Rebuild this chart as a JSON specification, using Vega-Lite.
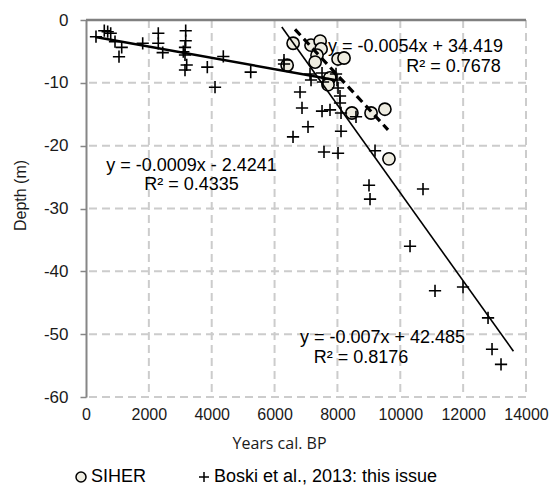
{
  "$schema": "https://vega.github.io/schema/vega-lite/v6.json",
  "autosize": "none",
  "width": 440,
  "height": 377,
  "padding": {"left": 86, "top": 20, "right": 24, "bottom": 96},
  "background": "white",
  "config": {
    "view": {"stroke": null},
    "font": "Liberation Sans",
    "axis": {"labelFont": "Liberation Sans", "labelFontSize": 17, "labelColor": "#1a1a1a", "titleFont": "Liberation Sans", "titleFontWeight": "normal", "titleColor": "#1a1a1a", "grid": false, "labelOverlap": false}
  },
  "layer": [
    {
      "data": {"values": [{"g": 2000}, {"g": 4000}, {"g": 6000}, {"g": 8000}, {"g": 10000}, {"g": 12000}, {"g": 14000}]},
      "mark": {"type": "rule", "stroke": "#CCCCCC", "strokeWidth": 2, "strokeDash": [8, 5], "opacity": 1},
      "encoding": {"x": {"field": "g", "type": "quantitative"}}
    },
    {
      "data": {"values": [{"g": -10}, {"g": -20}, {"g": -30}, {"g": -40}, {"g": -50}, {"g": -60}]},
      "mark": {"type": "rule", "stroke": "#CCCCCC", "strokeWidth": 2, "strokeDash": [8, 5], "opacity": 1},
      "encoding": {"y": {"field": "g", "type": "quantitative"}}
    },
    {
      "data": {"values": [{"g": 0, "a": 0, "b": 14000}]},
      "mark": {"type": "rule", "stroke": "#808080", "strokeWidth": 2.5, "opacity": 1},
      "encoding": {"y": {"field": "g", "type": "quantitative"}, "x": {"field": "a", "type": "quantitative"}, "x2": {"field": "b"}}
    },
    {
      "data": {"values": [
        {"label": "y = -0.0009x - 2.4241", "x": 3357, "y": -23.2},
        {"label": "R² = 0.4335", "x": 3357, "y": -26.3},
        {"label": "y = -0.0054x + 34.419", "x": 10486, "y": -4.3},
        {"label": "R² = 0.7678", "x": 11693, "y": -7.5},
        {"label": "y = -0.007x + 42.485", "x": 9435, "y": -50.6},
        {"label": "R² = 0.8176", "x": 8751, "y": -53.8}
      ]},
      "mark": {"type": "text", "font": "Liberation Sans", "fontSize": 18, "color": "#000000", "align": "center", "baseline": "middle"},
      "encoding": {
        "x": {"field": "x", "type": "quantitative", "scale": {"domain": [0, 14000], "nice": false},
          "axis": {"values": [0, 2000, 4000, 6000, 8000, 10000, 12000, 14000], "labelExpr": "'' + datum.value", "labelFontSize": 16, "labelFlush": false, "title": "Years cal. BP", "titleFont": "Open Sans", "titleFontSize": 16, "titleX": 193, "titleY": 46, "titleBaseline": "middle", "titleAlign": "center",
            "domain": false, "ticks": false, "labelPadding": 9}},
        "y": {"field": "y", "type": "quantitative", "scale": {"domain": [-60, 0], "nice": false},
          "axis": {"values": [0, -10, -20, -30, -40, -50, -60], "labelExpr": "'' + datum.value", "title": "Depth (m)", "titleFontSize": 16, "titleAngle": -90, "titleX": -66, "titleY": 175, "titleBaseline": "middle", "titleAlign": "center",
            "domainColor": "#868686", "domainWidth": 2, "tickColor": "#868686", "tickSize": 6, "tickWidth": 1.5, "labelPadding": 12}},
        "text": {"field": "label"}
      }
    },
    {
      "data": {"values": [
        {"source": "SIHER", "age": 6590, "depth": -3.7},
        {"source": "SIHER", "age": 6400, "depth": -7.2},
        {"source": "SIHER", "age": 7160, "depth": -4.0},
        {"source": "SIHER", "age": 7450, "depth": -3.35},
        {"source": "SIHER", "age": 7480, "depth": -4.6},
        {"source": "SIHER", "age": 7350, "depth": -5.6},
        {"source": "SIHER", "age": 7290, "depth": -6.7},
        {"source": "SIHER", "age": 8020, "depth": -6.2},
        {"source": "SIHER", "age": 8210, "depth": -6.05},
        {"source": "SIHER", "age": 7760, "depth": -9.2},
        {"source": "SIHER", "age": 7700, "depth": -10.3},
        {"source": "SIHER", "age": 8460, "depth": -14.8},
        {"source": "SIHER", "age": 9070, "depth": -14.8},
        {"source": "SIHER", "age": 9510, "depth": -14.2},
        {"source": "SIHER", "age": 9640, "depth": -22.1},
        {"source": "Boski et al., 2013: this issue", "age": 318, "depth": -2.66},
        {"source": "Boski et al., 2013: this issue", "age": 582, "depth": -1.7},
        {"source": "Boski et al., 2013: this issue", "age": 690, "depth": -1.86},
        {"source": "Boski et al., 2013: this issue", "age": 786, "depth": -2.12},
        {"source": "Boski et al., 2013: this issue", "age": 923, "depth": -3.45},
        {"source": "Boski et al., 2013: this issue", "age": 1136, "depth": -4.35},
        {"source": "Boski et al., 2013: this issue", "age": 1050, "depth": -5.84},
        {"source": "Boski et al., 2013: this issue", "age": 1804, "depth": -3.71},
        {"source": "Boski et al., 2013: this issue", "age": 2300, "depth": -2.12},
        {"source": "Boski et al., 2013: this issue", "age": 2300, "depth": -3.71},
        {"source": "Boski et al., 2013: this issue", "age": 2441, "depth": -5.2},
        {"source": "Boski et al., 2013: this issue", "age": 3172, "depth": -1.7},
        {"source": "Boski et al., 2013: this issue", "age": 3172, "depth": -3.3},
        {"source": "Boski et al., 2013: this issue", "age": 3150, "depth": -4.35},
        {"source": "Boski et al., 2013: this issue", "age": 3096, "depth": -5.05},
        {"source": "Boski et al., 2013: this issue", "age": 3150, "depth": -5.57},
        {"source": "Boski et al., 2013: this issue", "age": 3204, "depth": -7.16},
        {"source": "Boski et al., 2013: this issue", "age": 3150, "depth": -7.96},
        {"source": "Boski et al., 2013: this issue", "age": 3860, "depth": -7.5},
        {"source": "Boski et al., 2013: this issue", "age": 4369, "depth": -5.8},
        {"source": "Boski et al., 2013: this issue", "age": 4105, "depth": -10.7},
        {"source": "Boski et al., 2013: this issue", "age": 5241, "depth": -8.3},
        {"source": "Boski et al., 2013: this issue", "age": 6300, "depth": -6.37},
        {"source": "Boski et al., 2013: this issue", "age": 6300, "depth": -7.0},
        {"source": "Boski et al., 2013: this issue", "age": 7128, "depth": -8.59},
        {"source": "Boski et al., 2013: this issue", "age": 7160, "depth": -9.55},
        {"source": "Boski et al., 2013: this issue", "age": 7510, "depth": -8.44},
        {"source": "Boski et al., 2013: this issue", "age": 7541, "depth": -9.87},
        {"source": "Boski et al., 2013: this issue", "age": 7955, "depth": -8.59},
        {"source": "Boski et al., 2013: this issue", "age": 7987, "depth": -9.55},
        {"source": "Boski et al., 2013: this issue", "age": 8019, "depth": -10.82},
        {"source": "Boski et al., 2013: this issue", "age": 8082, "depth": -12.1},
        {"source": "Boski et al., 2013: this issue", "age": 8082, "depth": -13.2},
        {"source": "Boski et al., 2013: this issue", "age": 8114, "depth": -14.8},
        {"source": "Boski et al., 2013: this issue", "age": 6810, "depth": -11.46},
        {"source": "Boski et al., 2013: this issue", "age": 6873, "depth": -14.0},
        {"source": "Boski et al., 2013: this issue", "age": 7510, "depth": -14.5},
        {"source": "Boski et al., 2013: this issue", "age": 7764, "depth": -14.3},
        {"source": "Boski et al., 2013: this issue", "age": 7064, "depth": -17.0},
        {"source": "Boski et al., 2013: this issue", "age": 6587, "depth": -18.6},
        {"source": "Boski et al., 2013: this issue", "age": 8114, "depth": -17.7},
        {"source": "Boski et al., 2013: this issue", "age": 7573, "depth": -21.0},
        {"source": "Boski et al., 2013: this issue", "age": 8019, "depth": -21.2},
        {"source": "Boski et al., 2013: this issue", "age": 8591, "depth": -15.4},
        {"source": "Boski et al., 2013: this issue", "age": 9196, "depth": -20.8},
        {"source": "Boski et al., 2013: this issue", "age": 9005, "depth": -26.3},
        {"source": "Boski et al., 2013: this issue", "age": 9037, "depth": -28.5},
        {"source": "Boski et al., 2013: this issue", "age": 10723, "depth": -26.9},
        {"source": "Boski et al., 2013: this issue", "age": 10310, "depth": -36.0},
        {"source": "Boski et al., 2013: this issue", "age": 11105, "depth": -43.1},
        {"source": "Boski et al., 2013: this issue", "age": 11996, "depth": -42.5},
        {"source": "Boski et al., 2013: this issue", "age": 12792, "depth": -47.4},
        {"source": "Boski et al., 2013: this issue", "age": 12919, "depth": -52.4},
        {"source": "Boski et al., 2013: this issue", "age": 13205, "depth": -54.8}
      ]},
      "mark": {"type": "point", "filled": false, "stroke": "#000000", "strokeWidth": 1.6, "size": 150, "opacity": 1},
      "encoding": {
        "x": {"field": "age", "type": "quantitative"},
        "y": {"field": "depth", "type": "quantitative"},
        "shape": {"field": "source", "type": "nominal",
          "scale": {"domain": ["SIHER", "Boski et al., 2013: this issue"], "range": ["circle", "M-1,0H1M0,-1V1"]},
          "legend": {"title": null, "orient": "none", "legendX": -14, "legendY": 448, "direction": "horizontal", "columnPadding": 48, "labelFont": "Liberation Sans", "labelFontSize": 18, "labelColor": "#000000", "labelLimit": 400, "symbolSize": 100, "labelOffset": 1, "padding": 0,
            "encode": {"symbols": {"update": {"stroke": {"value": "#000000"}, "strokeWidth": {"value": 1.6}}}}}},
        "fill": {"field": "source", "type": "nominal",
          "scale": {"domain": ["SIHER", "Boski et al., 2013: this issue"], "range": ["#EEECE1", "transparent"]},
          "legend": {"title": null, "orient": "none", "legendX": -14, "legendY": 448, "direction": "horizontal", "columnPadding": 48, "labelFont": "Liberation Sans", "labelFontSize": 18, "labelColor": "#000000", "labelLimit": 400, "symbolSize": 100, "labelOffset": 1, "padding": 0,
            "encode": {"symbols": {"update": {"stroke": {"value": "#000000"}, "strokeWidth": {"value": 1.6}}}}}}
      }
    },
    {
      "data": {"values": [{"age": 300, "depth": -2.694}, {"age": 7920, "depth": -9.552}]},
      "mark": {"type": "line", "stroke": "#000000", "strokeWidth": 2.5},
      "encoding": {"x": {"field": "age", "type": "quantitative"}, "y": {"field": "depth", "type": "quantitative"}}
    },
    {
      "data": {"values": [{"age": 6230, "depth": -1.125}, {"age": 13600, "depth": -52.715}]},
      "mark": {"type": "line", "stroke": "#000000", "strokeWidth": 1.6},
      "encoding": {"x": {"field": "age", "type": "quantitative"}, "y": {"field": "depth", "type": "quantitative"}}
    },
    {
      "data": {"values": [{"age": 6650, "depth": -1.491}, {"age": 9610, "depth": -17.475}]},
      "mark": {"type": "line", "stroke": "#000000", "strokeWidth": 3.2, "strokeDash": [8, 5]},
      "encoding": {"x": {"field": "age", "type": "quantitative"}, "y": {"field": "depth", "type": "quantitative"}}
    }
  ]
}
